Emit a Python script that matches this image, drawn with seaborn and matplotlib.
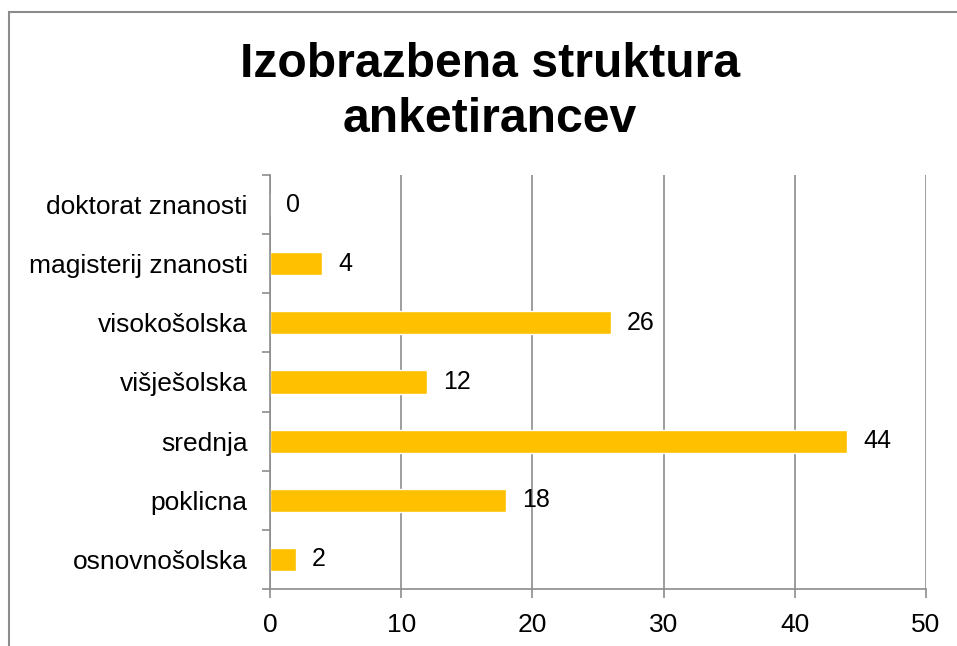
"""
Izobrazbena struktura anketirancev - horizontal bar chart
"""
import numpy as np
import pandas as pd
import matplotlib.pyplot as plt
import matplotlib.ticker as mtick
from matplotlib.patches import Rectangle
import seaborn as sns

## Data
categories = ['doktorat znanosti', 'magisterij znanosti', 'visokošolska',
              'višješolska', 'srednja', 'poklicna', 'osnovnošolska']
counts = [0, 4, 26, 12, 44, 18, 2]
x_ticks = [0, 10, 20, 30, 40, 50]
title = 'Izobrazbena struktura\nanketirancev'

bar_colour = '#FFC000'
grid_colour = '#8C8C8C'

sns.set_theme(style='white')
plt.rcParams['font.family'] = ['Liberation Sans', 'DejaVu Sans']
plt.rcParams['text.color'] = 'black'

W, H = 957, 646
fig = plt.figure(figsize=(W / 100, H / 100), dpi=100)
ax = fig.add_axes([270 / W, 1 - 589 / H, (926 - 270) / W, (589 - 175) / H])

df = pd.DataFrame({'category': categories, 'count': counts})
sns.barplot(data=df, x='count', y='category', orient='h', color=bar_colour,
            width=0.39, saturation=1, ax=ax)

ax.set_xlim(0, 50)
ax.set_ylim(len(categories) - 0.5, -0.5)
ax.set_xticks(x_ticks)
ax.xaxis.grid(True, color=grid_colour, linewidth=1.2)
ax.set_axisbelow(True)
ax.set_xlabel('')
ax.set_ylabel('')

# category boundaries as minor ticks on y, labels centred on major
ax.yaxis.set_minor_locator(mtick.FixedLocator(np.arange(-0.5, len(categories), 1)))
ax.tick_params(axis='y', which='major', length=0, pad=16, labelsize=19, labelcolor='black')
ax.tick_params(axis='y', which='minor', left=True, length=6, width=1.2, color=grid_colour)
ax.tick_params(axis='x', which='major', bottom=True, length=6.5, width=1.2,
               color=grid_colour, labelsize=19, pad=11, labelcolor='black')

for side in ['top', 'right']:
    ax.spines[side].set_visible(False)
for side in ['left', 'bottom']:
    ax.spines[side].set_color(grid_colour)
    ax.spines[side].set_linewidth(1.2)

# value labels
for i, v in enumerate(counts):
    ax.annotate(f'{v}', xy=(v, i), xytext=(11.5, 0), textcoords='offset points',
                va='center', ha='left', fontsize=18, color='black')

fig.text(490 / W, 1 - 92 / H, title, ha='center', va='center', fontsize=34.7,
         fontweight='bold', linespacing=1.28, color='black')

# chart area frame
fig.patches.append(Rectangle((9 / W, -0.1), 1.2, 1.1 - 12 / H, transform=fig.transFigure,
                             fill=False, edgecolor='#8C8C8C', linewidth=1.5))

fig.savefig('out.png', dpi=100)
